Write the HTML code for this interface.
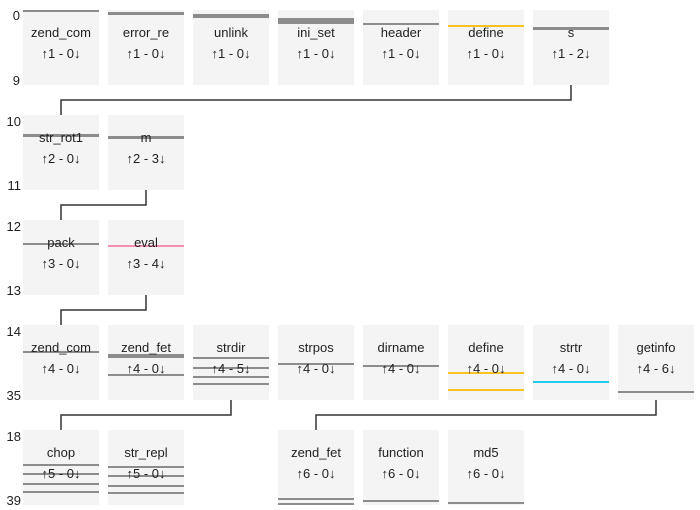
<!DOCTYPE html>
<html><head><meta charset="utf-8"><style>
html,body{margin:0;padding:0;background:#fff;width:700px;height:510px;overflow:hidden}
svg text{font-family:"Liberation Sans","DejaVu Sans",sans-serif;font-size:13px;fill:#222}
</style></head><body>
<svg width="700" height="510" viewBox="0 0 700 510" xmlns="http://www.w3.org/2000/svg">
<g fill="#f4f4f4">
<rect x="23" y="10" width="76" height="75"/><rect x="108" y="10" width="76" height="75"/><rect x="193" y="10" width="76" height="75"/><rect x="278" y="10" width="76" height="75"/><rect x="363" y="10" width="76" height="75"/><rect x="448" y="10" width="76" height="75"/><rect x="533" y="10" width="76" height="75"/>
<rect x="23" y="115" width="76" height="75"/><rect x="108" y="115" width="76" height="75"/>
<rect x="23" y="220" width="76" height="75"/><rect x="108" y="220" width="76" height="75"/>
<rect x="23" y="325" width="76" height="75"/><rect x="108" y="325" width="76" height="75"/><rect x="193" y="325" width="76" height="75"/><rect x="278" y="325" width="76" height="75"/><rect x="363" y="325" width="76" height="75"/><rect x="448" y="325" width="76" height="75"/><rect x="533" y="325" width="76" height="75"/><rect x="618" y="325" width="76" height="75"/>
<rect x="23" y="430" width="76" height="75"/><rect x="108" y="430" width="76" height="75"/><rect x="278" y="430" width="76" height="75"/><rect x="363" y="430" width="76" height="75"/><rect x="448" y="430" width="76" height="75"/>
</g>
<g fill="#8c8c8c">
<rect x="23" y="10" width="76" height="2"/>
<rect x="108" y="12" width="76" height="3"/>
<rect x="193" y="14" width="76" height="4"/>
<rect x="278" y="18" width="76" height="6"/>
<rect x="363" y="23" width="76" height="2"/>
<rect x="533" y="27" width="76" height="3"/>
<rect x="23" y="134" width="76" height="3"/>
<rect x="108" y="136" width="76" height="3"/>
<rect x="23" y="243" width="76" height="2"/>
<rect x="23" y="351" width="76" height="2"/>
<rect x="108" y="354" width="76" height="4"/>
<rect x="108" y="374" width="76" height="2"/>
<rect x="193" y="357" width="76" height="2"/><rect x="193" y="367" width="76" height="2"/><rect x="193" y="376" width="76" height="2"/><rect x="193" y="383" width="76" height="2"/>
<rect x="278" y="363" width="76" height="2"/>
<rect x="363" y="365" width="76" height="2"/>
<rect x="618" y="391" width="76" height="2"/>
<rect x="23" y="464" width="76" height="2"/><rect x="23" y="473" width="76" height="2"/><rect x="23" y="483" width="76" height="2"/><rect x="23" y="491" width="76" height="2"/>
<rect x="108" y="466" width="76" height="2"/><rect x="108" y="475" width="76" height="2"/><rect x="108" y="485" width="76" height="2"/><rect x="108" y="492" width="76" height="2"/>
<rect x="278" y="498" width="76" height="2"/><rect x="278" y="503" width="76" height="2"/>
<rect x="363" y="500" width="76" height="2"/>
<rect x="448" y="502" width="76" height="2"/>
</g>
<rect x="448" y="25" width="76" height="2" fill="#f7c325"/>
<rect x="108" y="245" width="76" height="2" fill="#f48fb1"/>
<rect x="448" y="372" width="76" height="2" fill="#f7c325"/>
<rect x="448" y="389" width="76" height="2" fill="#f7c325"/>
<rect x="533" y="381" width="76" height="2" fill="#1ecbe8"/>
<g fill="none" stroke="#333" stroke-width="1.5">
<polyline points="571,85 571,100 61,100 61,115"/>
<polyline points="146,190 146,205 61,205 61,220"/>
<polyline points="146,295 146,310 61,310 61,325"/>
<polyline points="231,400 231,415 61,415 61,430"/>
<polyline points="656,400 656,415 316,415 316,430"/>
</g>
<g text-anchor="end">
<text x="20" y="20">0</text><text x="20" y="85">9</text>
<text x="21" y="126">10</text><text x="21" y="190">11</text>
<text x="21" y="231">12</text><text x="21" y="295">13</text>
<text x="21" y="336">14</text><text x="21" y="400">35</text>
<text x="21" y="441">18</text><text x="21" y="505">39</text>
</g>
<g text-anchor="middle">
<text x="61" y="37">zend_com</text><text x="61" y="58">↑1 - 0↓</text>
<text x="146" y="37">error_re</text><text x="146" y="58">↑1 - 0↓</text>
<text x="231" y="37">unlink</text><text x="231" y="58">↑1 - 0↓</text>
<text x="316" y="37">ini_set</text><text x="316" y="58">↑1 - 0↓</text>
<text x="401" y="37">header</text><text x="401" y="58">↑1 - 0↓</text>
<text x="486" y="37">define</text><text x="486" y="58">↑1 - 0↓</text>
<text x="571" y="37">s</text><text x="571" y="58">↑1 - 2↓</text>
<text x="61" y="142">str_rot1</text><text x="61" y="163">↑2 - 0↓</text>
<text x="146" y="142">m</text><text x="146" y="163">↑2 - 3↓</text>
<text x="61" y="247">pack</text><text x="61" y="268">↑3 - 0↓</text>
<text x="146" y="247">eval</text><text x="146" y="268">↑3 - 4↓</text>
<text x="61" y="352">zend_com</text><text x="61" y="373">↑4 - 0↓</text>
<text x="146" y="352">zend_fet</text><text x="146" y="373">↑4 - 0↓</text>
<text x="231" y="352">strdir</text><text x="231" y="373">↑4 - 5↓</text>
<text x="316" y="352">strpos</text><text x="316" y="373">↑4 - 0↓</text>
<text x="401" y="352">dirname</text><text x="401" y="373">↑4 - 0↓</text>
<text x="486" y="352">define</text><text x="486" y="373">↑4 - 0↓</text>
<text x="571" y="352">strtr</text><text x="571" y="373">↑4 - 0↓</text>
<text x="656" y="352">getinfo</text><text x="656" y="373">↑4 - 6↓</text>
<text x="61" y="457">chop</text><text x="61" y="478">↑5 - 0↓</text>
<text x="146" y="457">str_repl</text><text x="146" y="478">↑5 - 0↓</text>
<text x="316" y="457">zend_fet</text><text x="316" y="478">↑6 - 0↓</text>
<text x="401" y="457">function</text><text x="401" y="478">↑6 - 0↓</text>
<text x="486" y="457">md5</text><text x="486" y="478">↑6 - 0↓</text>
</g>
</svg>
</body></html>
